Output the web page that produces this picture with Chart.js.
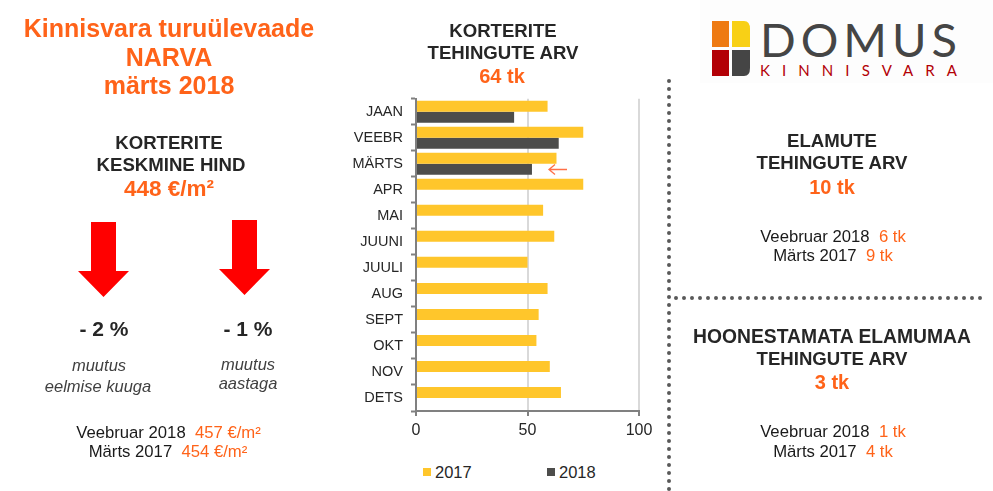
<!DOCTYPE html>
<html>
<head>
<meta charset="utf-8">
<style>
html, body { margin: 0; padding: 0; background: #fff; }
body { position: relative; width: 993px; height: 491px; overflow: hidden; font-family: "Liberation Sans", Arial, sans-serif; color: #262626; }
.t { position: absolute; transform: translate(-50%, -50%); white-space: pre; text-align: center; }
.o { color: #ff6319; }
.title { font-size: 25px; font-weight: bold; color: #ff6319; }
.head { font-size: 18.6px; font-weight: bold; }
.big { font-size: 20px; font-weight: bold; color: #ff6319; }
.pct { font-size: 21px; font-weight: bold; }
.note { font-size: 16.5px; font-style: italic; color: #404040; }
.cmp { font-size: 16.7px; color: #1a1a1a; }
#chartWrap { position: absolute; left: 340px; top: 82px; width: 320px; height: 368px; }
svg.layer { position: absolute; left: 0; top: 0; }
.key { position: absolute; top: 472px; transform: translateY(-50%); font-size: 16.5px; line-height: 20px; }
.key i { position: absolute; left: -12px; top: 6px; width: 8px; height: 8px; }
</style>
</head>
<body>
<svg class="layer" width="993" height="491">
  <!-- logo -->
  <rect x="700" y="0" width="293" height="83" fill="#fdfdfd"/>
  <rect x="712" y="21" width="17" height="26" fill="#ee7a12"/>
  <path d="M732 21h12q6 0 6 8v18h-18z" fill="#f8d016"/>
  <rect x="712" y="50" width="17" height="26" fill="#b30006"/>
  <path d="M732 50h18v18q0 8-6 8h-12z" fill="#454545"/>
  <text x="760" y="57" font-family="Lato" font-size="47" fill="#454545" textLength="197" lengthAdjust="spacing">DOMUS</text>
  <text x="760" y="76" font-family="Lato" font-size="15" fill="#b30006" textLength="197" lengthAdjust="spacing">KINNISVARA</text>
  <!-- down arrows -->
  <path d="M91 222h25v49h13l-25.500 26l-25.500-26h13z" fill="#ff0000"/>
  <path d="M232 220h25v49h13l-25.500 26l-25.500-26h13z" fill="#ff0000"/>
  <!-- dotted separators -->
  <line x1="669" y1="81" x2="669" y2="491" stroke="#595959" stroke-width="4" stroke-linecap="round" stroke-dasharray="0 8"/>
  <line x1="676" y1="298" x2="985" y2="298" stroke="#595959" stroke-width="4" stroke-linecap="round" stroke-dasharray="0 8"/>
</svg>

<div id="chartWrap"><canvas id="dealsChart"></canvas></div>
<div id="legend"></div>

<!-- arrow beside MÄRTS, above the canvas -->
<svg class="layer" width="993" height="491">
  <path d="M567 169.500h-17M555 164.500l-6 5l6 5" fill="none" stroke="#ff6f47" stroke-width="1.300"/>
</svg>

<div class="t title" style="left:169px;top:28px">Kinnisvara turuülevaade</div>
<div class="t title" style="left:169px;top:57px">NARVA</div>
<div class="t title" style="left:169px;top:85px">märts 2018</div>
<div class="t head" style="left:169px;top:143px">KORTERITE</div>
<div class="t head" style="left:171px;top:165px">KESKMINE HIND</div>
<div class="t big" style="left:169px;top:189px;font-size:22.5px">448 €/m²</div>
<div class="t pct" style="left:104px;top:329px">- 2 %</div>
<div class="t pct" style="left:248px;top:329px">- 1 %</div>
<div class="t note" style="left:99px;top:365px">muutus</div>
<div class="t note" style="left:98px;top:386px">eelmise kuuga</div>
<div class="t note" style="left:248px;top:364px">muutus</div>
<div class="t note" style="left:248px;top:383px">aastaga</div>
<div class="t cmp" style="left:168.500px;top:433px">Veebruar 2018  <span class="o">457 €/m²</span></div>
<div class="t cmp" style="left:168px;top:452px">Märts 2017  <span class="o">454 €/m²</span></div>

<div class="t head" style="left:503px;top:31px">KORTERITE</div>
<div class="t head" style="left:503px;top:53px">TEHINGUTE ARV</div>
<div class="t big" style="left:502px;top:76px">64 tk</div>

<div class="t head" style="left:832px;top:141px">ELAMUTE</div>
<div class="t head" style="left:832px;top:163px">TEHINGUTE ARV</div>
<div class="t big" style="left:832px;top:187px">10 tk</div>
<div class="t cmp" style="left:833px;top:237px">Veebruar 2018  <span class="o">6 tk</span></div>
<div class="t cmp" style="left:833px;top:256px">Märts 2017  <span class="o">9 tk</span></div>

<div class="t head" style="left:832px;top:337px;font-size:19.300px">HOONESTAMATA ELAMUMAA</div>
<div class="t head" style="left:832px;top:359px">TEHINGUTE ARV</div>
<div class="t big" style="left:832px;top:382px">3 tk</div>
<div class="t cmp" style="left:833px;top:432px">Veebruar 2018  <span class="o">1 tk</span></div>
<div class="t cmp" style="left:833px;top:452px">Märts 2017  <span class="o">4 tk</span></div>

<script src="https://cdn.jsdelivr.net/npm/chart.js@4"></script>
<script>
const months = ['JAAN', 'VEEBR', 'MÄRTS', 'APR', 'MAI', 'JUUNI', 'JUULI', 'AUG', 'SEPT', 'OKT', 'NOV', 'DETS'];
const deals2017 = [59, 75, 63, 75, 57, 62, 50, 59, 55, 54, 60, 65];
const deals2018 = [44, 64, 52, null, null, null, null, null, null, null, null, null];
const valueTicks = [0, 50, 100];

Chart.defaults.font.family = '"Liberation Sans", Arial, sans-serif';
Chart.defaults.color = '#262626';

const chart = new Chart(document.getElementById('dealsChart'), {
    type: 'bar',
    data: {
        labels: months,
        datasets: [
            { label: '2017', data: deals2017, backgroundColor: '#ffc62b' },
            { label: '2018', data: deals2018, backgroundColor: '#4d4d4b' }
        ]
    },
    options: {
        indexAxis: 'y',
        responsive: true,
        maintainAspectRatio: false,
        animation: false,
        datasets: { bar: { barPercentage: 1, categoryPercentage: 0.846 } },
        layout: { padding: { top: 0, right: 21, bottom: 0, left: 0 } },
        plugins: {
            tooltip: { enabled: false },
            legend: { display: false }
        },
        scales: {
            y: {
                afterFit: function(scale) { scale.width = 76; },
                border: { color: '#808080', width: 2 },
                grid: { drawOnChartArea: false, tickColor: '#808080', tickWidth: 2, tickLength: 5 },
                ticks: { autoSkip: false, padding: 8, color: '#262626', font: { size: 14.5 } }
            },
            x: {
                min: 0,
                max: 100,
                afterBuildTicks: function(scale) { scale.ticks = valueTicks.map(v => ({ value: v })); },
                afterFit: function(scale) { scale.height = 39; },
                border: { color: '#808080', width: 2 },
                grid: {
                    color: '#d9d9d9',
                    lineWidth: 2,
                    tickColor: '#808080',
                    tickWidth: 2,
                    tickLength: 5
                },
                ticks: { padding: 5, color: '#262626', font: { size: 16 } }
            }
        }
    }
});

// Legend sits far below the plot, so it is built outside the canvas
const legendX = [435, 559];
chart.data.datasets.forEach((ds, i) => {
    const key = document.createElement('div');
    key.className = 'key';
    key.style.left = legendX[i] + 'px';
    key.textContent = ds.label;
    const box = document.createElement('i');
    box.style.background = ds.backgroundColor;
    key.appendChild(box);
    document.getElementById('legend').appendChild(key);
});
</script>
</body>
</html>
